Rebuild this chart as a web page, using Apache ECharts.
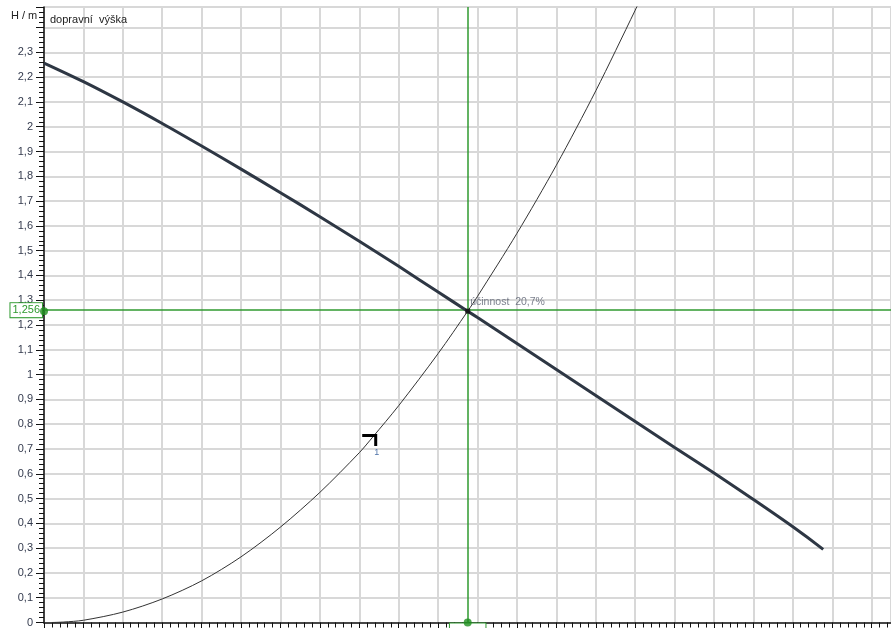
<!DOCTYPE html>
<html>
<head>
<meta charset="utf-8">
<script src="https://cdn.jsdelivr.net/npm/echarts@6/dist/echarts.min.js"></script>
<style>html,body{margin:0;padding:0;background:#fff;}#c{width:891px;height:628px;}</style>
</head>
<body>
<div id="c"></div>
<script>
// pump curve (dopravní výška), x in grid units
const pumpQ = [0, 1, 2, 3, 4, 5, 6, 7, 8, 9, 10, 10.75, 11, 12, 13, 14, 15, 16, 17, 18, 19, 19.77];
const pumpH = [2.257, 2.182, 2.100, 2.013, 1.922, 1.829, 1.734, 1.637, 1.538, 1.437, 1.333, 1.256, 1.230, 1.126, 1.021, 0.916, 0.811, 0.706, 0.603, 0.496, 0.386, 0.295];
// system curve "1"
const sysQ = [0.2, 0.5, 1, 2, 3, 4, 5, 6, 7, 8, 8.34, 9, 10, 10.75, 11, 12, 13, 14, 15, 15.3];
const sysH = [0, 0.002, 0.009, 0.042, 0.095, 0.168, 0.265, 0.385, 0.525, 0.685, 0.748, 0.875, 1.085, 1.256, 1.316, 1.57, 1.845, 2.145, 2.47, 2.57];
// operating point
const opPoint = [10.75, 1.256];
const opHLabel = '1,256';
const opQLabel = '10,75';
const effLabel = 'účinnost  20,7%';
// curve marker
const markerPoint = [8.34, 0.748];
const markerLabel = '1';
// axes
const yMin = 0, yMax = 2.483, yStep = 0.1;
const xMin = 0, xMax = 21.49, xStep = 1;
const yTitle = 'H / m';
const curveTitle = 'dopravní  výška';

const FONT = 'Liberation Sans, Arial, sans-serif';
const GREEN = '#2f9a2f';
const zip = (a, b) => a.map((v, i) => [v, b[i]]);
const fmtY = v => {
  const r = Math.round(v * 10) / 10;
  if (Math.abs(v - r) > 1e-6 || r > 2.35) return '';
  return String(r).replace('.', ',');
};

const chart = echarts.init(document.getElementById('c'), null, {renderer: 'canvas'});
chart.setOption({
  backgroundColor: '#fff',
  animation: false,
  title: [
    {text: curveTitle, left: 50, top: 14, padding: 0,
     textStyle: {fontSize: 11, fontWeight: 'normal', color: '#222', fontFamily: FONT}},
    {text: yTitle, left: 11, top: 10, padding: 0,
     textStyle: {fontSize: 11, fontWeight: 'normal', color: '#222', fontFamily: FONT}}
  ],
  grid: {left: 44, right: -2, top: 7, bottom: 5, containLabel: false},
  xAxis: [{
    type: 'value', min: xMin, max: xMax, interval: xStep,
    axisLine: {show: true, onZero: false, lineStyle: {color: '#111', width: 1.5}},
    axisTick: {show: true, length: 8, lineStyle: {color: '#111'}},
    minorTick: {show: true, splitNumber: 5, length: 5, lineStyle: {color: '#111'}},
    axisLabel: {show: false},
    splitLine: {show: true, lineStyle: {color: '#d8d8d8', width: 2}}
  }, {
    type: 'value', position: 'top', min: xMin, max: xMax,
    axisLine: {show: true, lineStyle: {color: '#4a4a4a', width: 1.5}},
    axisTick: {show: false}, axisLabel: {show: false}, splitLine: {show: false}
  }],
  yAxis: {
    type: 'value', min: yMin, max: yMax, interval: yStep,
    axisLine: {show: true, lineStyle: {color: '#111', width: 1.5}},
    axisTick: {show: true, length: 8, lineStyle: {color: '#111'}},
    minorTick: {show: true, splitNumber: 5, length: 5, lineStyle: {color: '#111'}},
    axisLabel: {formatter: fmtY, fontSize: 11, color: '#333a4d', fontFamily: FONT, margin: 11},
    splitLine: {show: true, lineStyle: {color: '#d8d8d8', width: 2}}
  },
  series: [
    {
      name: 'dopravní výška', type: 'line', data: zip(pumpQ, pumpH),
      smooth: 0.3, symbol: 'none', z: 5,
      lineStyle: {color: '#2e3744', width: 3}
    },
    {
      name: 'system', type: 'line', data: zip(sysQ, sysH),
      smooth: 0.3, symbol: 'none', z: 4,
      lineStyle: {color: '#333', width: 1},
      markPoint: {
        silent: true,
        data: [{coord: markerPoint, value: markerLabel}],
        symbol: 'path://M0,0 H15 V12 H12 V3 H0 Z',
        symbolSize: [15, 12],
        symbolOffset: [-3, 3],
        itemStyle: {color: '#000'},
        label: {show: true, position: [12, 14], fontSize: 9, color: '#4f73a8', fontFamily: FONT,
                formatter: markerLabel}
      }
    },
    {
      name: 'op', type: 'scatter', data: [opPoint], symbol: 'rect', symbolSize: 5, z: 8,
      itemStyle: {color: '#111'},
      label: {show: true, position: [5, -12], formatter: effLabel, fontSize: 10.5,
              color: '#5a6070', fontFamily: FONT},
      markLine: {
        silent: true, symbol: ['none', 'none'], z: 3,
        lineStyle: {color: GREEN, width: 1.5, type: 'solid'},
        data: [
          {yAxis: opPoint[1], label: {show: true, position: 'start', formatter: opHLabel, distance: 2,
            fontSize: 11, color: GREEN, fontFamily: FONT, backgroundColor: '#fff',
            borderColor: GREEN, borderWidth: 1, padding: [2, 2, 1, 2]}},
          {xAxis: opPoint[0], label: {show: true, position: 'start', formatter: opQLabel, distance: 1,
            fontSize: 11, color: GREEN, fontFamily: FONT, backgroundColor: '#fff',
            borderColor: GREEN, borderWidth: 1, padding: [7, 4, 2, 4]}}
        ]
      }
    },
    {
      name: 'dots', type: 'scatter', clip: false, z: 9,
      data: [[xMin, opPoint[1]], [opPoint[0], yMin]],
      symbol: 'circle', symbolSize: 8, itemStyle: {color: '#1f8f1f'}
    }
  ]
});
</script>
</body>
</html>
